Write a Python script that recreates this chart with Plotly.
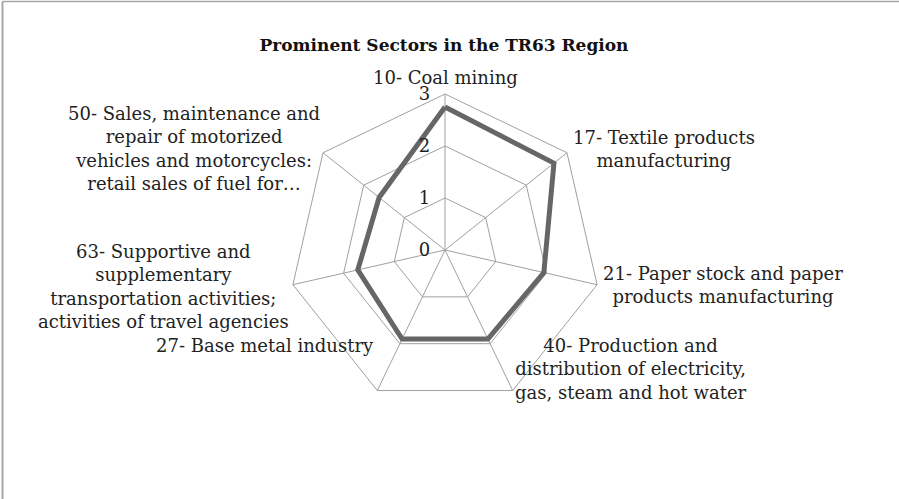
import plotly.graph_objects as go

categories = [
    "10- Coal mining",
    "17- Textile products<br>manufacturing",
    "21- Paper stock and paper<br>products manufacturing",
    "40- Production and<br>distribution of electricity,<br>gas, steam and hot water",
    "27- Base metal industry",
    "63- Supportive and<br>supplementary<br>transportation activities;<br>activities of travel agencies",
    "50- Sales, maintenance and<br>repair of motorized<br>vehicles and motorcycles:<br>retail sales of fuel for…",
]
values = [2.75, 2.68, 1.95, 1.9, 1.9, 1.72, 1.62]
radial_ticks = [0, 1, 2, 3]

W, H = 899, 499
FONT = "DejaVu Serif"

# label centre positions in pixels (layout only)
label_pos = [(445, 78), (664, 149), (723, 285), (631, 369), (265, 345), (163, 286), (194, 149)]

theta = list(range(len(categories)))
fig = go.Figure()
fig.add_trace(go.Scatterpolar(
    r=values + values[:1],
    theta=[str(t) for t in theta] + ["0"],
    mode="lines",
    line=dict(color="#666666", width=5),
    hoverinfo="skip",
    showlegend=False,
))

cx, cy, R = 445, 250, 156
fig.update_layout(
    width=W, height=H,
    margin=dict(l=0, r=0, t=0, b=0),
    paper_bgcolor="white",
    plot_bgcolor="white",
    font=dict(family=FONT, size=18, color="#222222"),
    polar=dict(
        domain=dict(x=[(cx - R) / W, (cx + R) / W], y=[(H - cy - R) / H, (H - cy + R) / H]),
        bgcolor="white",
        gridshape="linear",
        angularaxis=dict(
            type="category",
            categoryarray=[str(t) for t in theta],
            direction="clockwise",
            rotation=90,
            showticklabels=False,
            ticks="",
            showline=True,
            linecolor="#a0a0a0",
            linewidth=1,
            gridcolor="#a0a0a0",
            gridwidth=1,
        ),
        radialaxis=dict(
            range=[0, 3],
            tickvals=radial_ticks,
            ticktext=[str(v) for v in radial_ticks],
            angle=90,
            side="counterclockwise",
            tickangle=90,
            showline=False,
            ticks="outside",
            ticklen=8,
            tickcolor="rgba(0,0,0,0)",
            gridcolor="#a0a0a0",
            gridwidth=1,
            tickfont=dict(family=FONT, size=18, color="#222222"),
        ),
    ),
    title=dict(
        text="<b>Prominent Sectors in the TR63 Region</b>",
        x=444 / W, y=1 - 45 / H, xanchor="center", yanchor="middle",
        font=dict(family=FONT, size=17, color="#111111"),
    ),
    shapes=[
        dict(type="line", xref="paper", yref="paper", x0=2.5 / W, x1=2.5 / W, y0=0, y1=1 - 1.5 / H,
             line=dict(color="#a6a6a6", width=2)),
        dict(type="line", xref="paper", yref="paper", x0=2.5 / W, x1=1, y0=1 - 1.5 / H, y1=1 - 1.5 / H,
             line=dict(color="#a6a6a6", width=1.5)),
    ],
)

for label, (px, py) in zip(categories, label_pos):
    fig.add_annotation(
        text=label, x=px / W, y=1 - py / H, xref="paper", yref="paper",
        xanchor="center", yanchor="middle", showarrow=False, align="center",
        font=dict(family=FONT, size=18, color="#222222"),
    )

fig.write_html(
    "out.html",
    config={"displayModeBar": False},
    post_script="document.body.style.margin='0';document.body.style.padding='0';",
)
